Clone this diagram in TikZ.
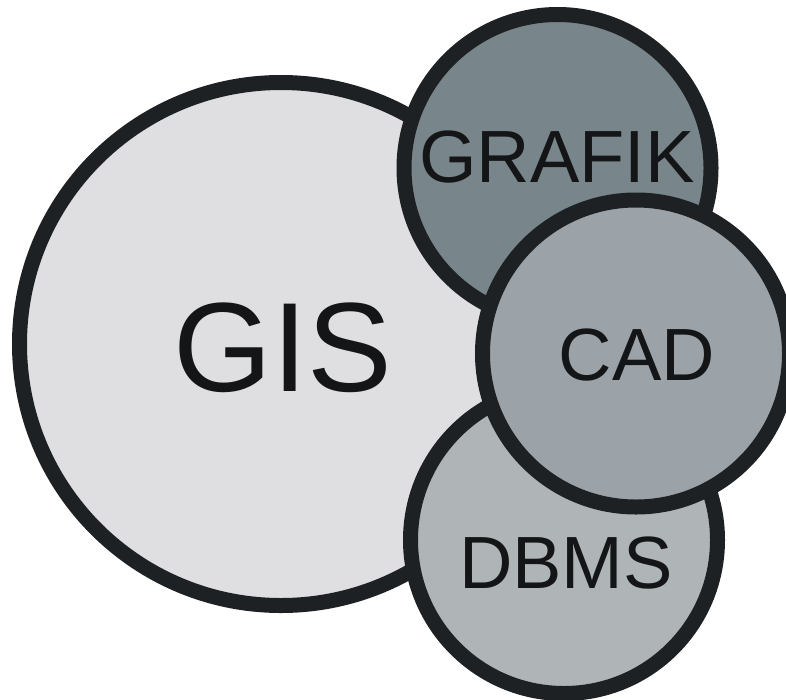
\documentclass[tikz,border=0pt]{standalone}
\usepackage{fontspec}
\setmainfont{Liberation Sans}
\definecolor{ringline}{HTML}{1E2124}
\definecolor{inktext}{HTML}{141516}
\definecolor{gisfill}{HTML}{DFDFE1}
\definecolor{grafikfill}{HTML}{78858A}
\definecolor{cadfill}{HTML}{9BA3A8}
\definecolor{dbmsfill}{HTML}{AFB4B7}
\tikzset{
  disc/.style={circle, draw=ringline, line width=15pt, inner sep=0pt},
  bigdisc/.style={disc, minimum size=523pt},
  smalldisc/.style={disc, minimum size=307pt},
  biglabel/.style={anchor=base, inner sep=0pt, text=inktext, font=\fontsize{127}{127}\selectfont},
  smalllabel/.style={anchor=base, inner sep=0pt, text=inktext, font=\fontsize{74}{74}\selectfont},
}
\begin{document}
\begin{tikzpicture}[x=1pt, y=-1pt]
  \useasboundingbox (0,0) rectangle (786,699);
  \clip (0,0) rectangle (786,699);
  % the four overlapping discs, back to front
  \node[bigdisc, fill=gisfill] (gis) at (281,344) {};
  \node[smalldisc, fill=grafikfill] (grafik) at (557.5,168) {};
  \node[smalldisc, fill=dbmsfill] (dbms) at (564,540) {};
  \node[smalldisc, fill=cadfill] (cad) at (636,353.5) {};
  % labels
  \node[biglabel] (gistext) at (283,391) {GIS};
  \node[smalllabel] (grafiktext) at (557,182) {GRAFIK};
  \node[smalllabel] (cadtext) at (637,380) {CAD};
  \node[smalllabel] (dbmstext) at (566,588) {DBMS};
\end{tikzpicture}
\end{document}
